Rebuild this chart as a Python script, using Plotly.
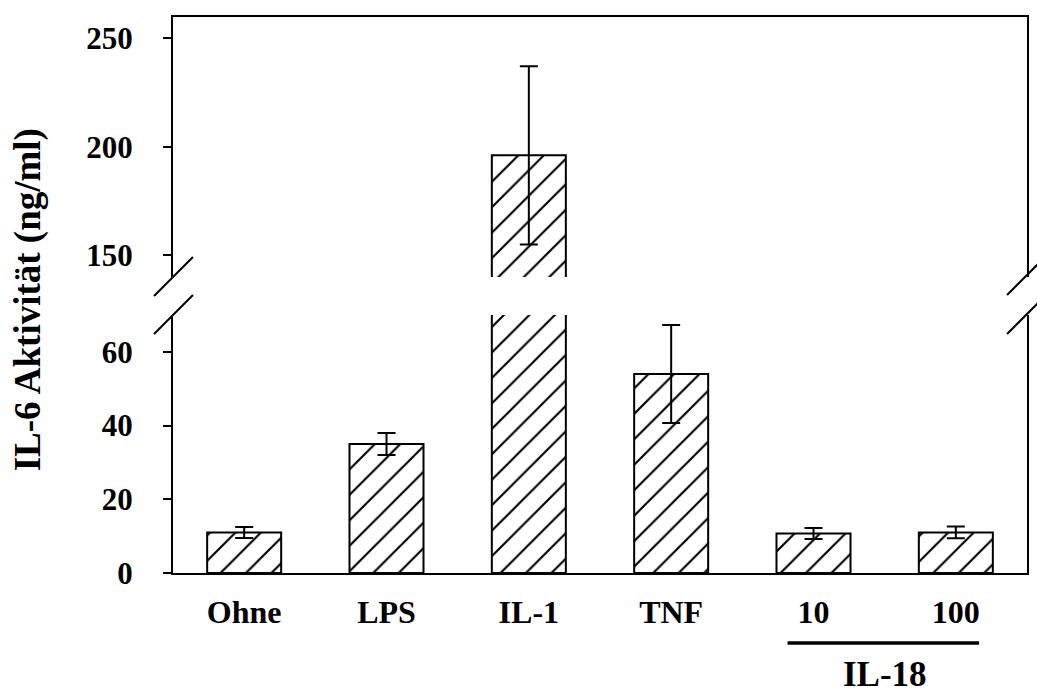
import plotly.graph_objects as go

categories = ["Ohne", "LPS", "IL-1", "TNF", "10", "100"]
values = [11, 35, 196, 54, 10.7, 11]
errors = [1.5, 3, 41, 13.3, 1.5, 1.6]
lower_ticks = [0, 20, 40, 60]
upper_ticks = [150, 200, 250]
y_title = "IL-6 Aktivität (ng/ml)"
group_label = "IL-18"

FONT = "Liberation Serif"
W, H = 1037, 695
L, R, T, B = 173, 8, 17, 122
pw, ph = W - L - R, H - T - B


def px(x):
    return (x - L) / pw


def py(y):
    return (H - B - y) / ph


low_top = py(315)
up_bot = py(277)

bar_style = dict(
    color="white",
    line=dict(color="black", width=2),
    pattern=dict(shape="/", fgcolor="black", bgcolor="white", fgopacity=1,
                 size=18, solidity=0.12),
)
err_style = dict(type="data", array=errors, visible=True, color="black", thickness=2, width=9)

fig = go.Figure()
fig.add_trace(go.Bar(x=categories, y=values, marker=bar_style, error_y=err_style,
                     width=0.52, xaxis="x", yaxis="y", showlegend=False))
fig.add_trace(go.Bar(x=categories, y=values, marker=bar_style, error_y=err_style,
                     width=0.52, xaxis="x2", yaxis="y2", showlegend=False))

axis_font = dict(family=FONT, size=31, color="black")
fig.update_layout(
    width=W, height=H,
    margin=dict(l=L, r=R, t=T, b=B),
    plot_bgcolor="white", paper_bgcolor="white",
    font=dict(family=FONT, color="black"),
    xaxis=dict(domain=[0, 1], anchor="y", showline=True, linecolor="black", linewidth=2,
               ticks="", tickfont=dict(family=FONT, size=32, color="black"),
               ticklabelstandoff=10, showgrid=False,
               tickvals=categories, ticktext=["<b>%s</b>" % c for c in categories]),
    xaxis2=dict(domain=[0, 1], anchor="y2", matches="x", side="top", showline=True,
                linecolor="black", linewidth=2, ticks="", showticklabels=False, showgrid=False),
    yaxis=dict(domain=[0, low_top], range=[0, 70], ticks="outside",
               ticklen=8, tickwidth=2, tickcolor="black", showline=True, linecolor="black",
               linewidth=2, mirror=True, showgrid=False, zeroline=False,
               tickfont=axis_font, ticklabelstandoff=24,
               tickvals=lower_ticks, ticktext=["<b>%d</b>" % v for v in lower_ticks]),
    yaxis2=dict(domain=[up_bot, 1], range=[140, 259.7], ticks="outside",
                ticklen=8, tickwidth=2, tickcolor="black", showline=True, linecolor="black",
                linewidth=2, mirror=True, showgrid=False, zeroline=False,
                tickfont=axis_font, ticklabelstandoff=24,
                tickvals=upper_ticks, ticktext=["<b>%d</b>" % v for v in upper_ticks]),
    bargap=0.48,
)

shapes = []
for (x0, y0, x1, y1) in [(154, 296, 193, 257), (154, 334, 193, 295),
                          (1009, 295, 1048, 256), (1009, 334, 1048, 295)]:
    shapes.append(dict(type="line", xref="paper", yref="paper",
                       x0=px(x0), y0=py(y0), x1=px(x1), y1=py(y1),
                       line=dict(color="black", width=2)))
shapes.append(dict(type="line", xref="paper", yref="paper",
                   x0=px(789), y0=py(643), x1=px(981), y1=py(643),
                   line=dict(color="black", width=3.5)))
fig.update_layout(shapes=shapes)

fig.add_annotation(text="<b>%s</b>" % y_title, xref="paper", yref="paper",
                   x=px(28), y=py(300), xanchor="center", yanchor="middle",
                   textangle=-90, showarrow=False,
                   font=dict(family=FONT, size=37, color="black"))
fig.add_annotation(text="<b>%s</b>" % group_label, xref="paper", yref="paper",
                   x=px(887), y=py(674), xanchor="center", yanchor="middle",
                   showarrow=False, font=dict(family=FONT, size=35, color="black"))

fig.write_html("out.html")
